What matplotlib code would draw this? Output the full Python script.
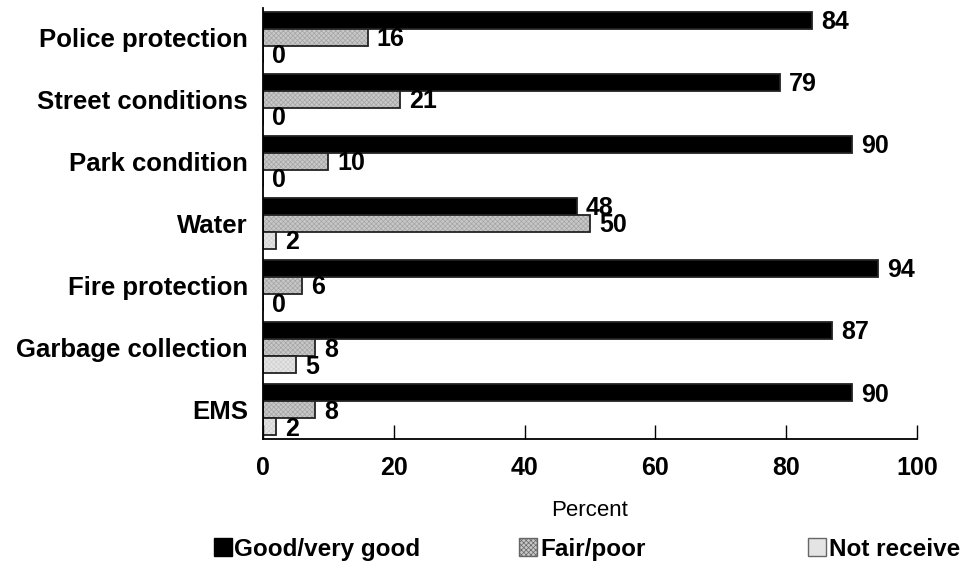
import matplotlib
matplotlib.use("Agg")
import matplotlib.pyplot as plt
import numpy as np
from matplotlib.patches import Patch

plt.rcParams['font.family'] = ['Liberation Sans', 'DejaVu Sans']
plt.rcParams['hatch.linewidth'] = 0.5

categories = ["Police protection", "Street conditions", "Park condition", "Water",
              "Fire protection", "Garbage collection", "EMS"]
good = [84, 79, 90, 48, 94, 87, 90]
fair = [16, 21, 10, 50, 6, 8, 8]
not_receive = [0, 0, 0, 2, 0, 5, 2]
series_names = ["Good/very good", "Fair/poor", "Not receive"]
xticks = [0, 20, 40, 60, 80, 100]

fig = plt.figure(figsize=(9.76, 5.69), dpi=100)
ax = fig.add_axes([0.2695, 0.2285, 0.670, 0.7575])

n = len(categories)
centers = np.arange(n)[::-1].astype(float)  # first category at the top
h = 0.275
offsets = [h, 0.0, -h]

faces = ["black", "#c8c8c8", "#e4e4e4"]
hatches = [None, "xxxxxxx", "xxxxxxx"]
hatch_colors = ["black", "#a4a4a4", "#d0d0d0"]

for vals, off, fc, ht, hc in zip([good, fair, not_receive], offsets, faces, hatches, hatch_colors):
    y = centers + off
    ax.barh(y, vals, height=h, color=fc, hatch=ht, edgecolor=hc, linewidth=0)
    ax.barh(y, vals, height=h, fill=False, edgecolor="#222222", linewidth=1.3)
    for yy, v in zip(y, vals):
        ax.text(v + 1.4, yy - 0.03, f"{v}", va="center", ha="left",
                fontsize=18, fontweight="bold")

ax.set_xlim(0, 100)
ax.set_ylim(-0.5 + 0.03, n - 0.5 - 0.03)
ax.set_yticks(centers)
ax.set_yticklabels(categories, fontsize=18.5, fontweight="bold")
ax.tick_params(axis="y", length=0, pad=11)
ax.set_xticks(xticks)
ax.set_xticklabels([str(t) for t in xticks], fontsize=18, fontweight="bold")
ax.tick_params(axis="x", direction="in", length=10, width=1, pad=12)
ax.spines["top"].set_visible(False)
ax.spines["right"].set_visible(False)
ax.spines["left"].set_linewidth(1.3)
ax.spines["bottom"].set_linewidth(1.3)
ax.set_xlabel("Percent", fontsize=16, labelpad=15)

# legend entries laid out individually along the bottom
handles = [
    Patch(facecolor="black", edgecolor="black"),
    Patch(facecolor="#c8c8c8", edgecolor="#666666", hatch="xxxxxxx"),
    Patch(facecolor="#e4e4e4", edgecolor="#666666"),
]
legend_x = [0.219, 0.532, 0.828]
for hd, name, lx in zip(handles, series_names, legend_x):
    leg = fig.legend([hd], [name], loc="center left", bbox_to_anchor=(lx, 0.035),
                     frameon=False, prop={"size": 17.5, "weight": "bold"},
                     handlelength=0.75, handleheight=0.75, handletextpad=0.1,
                     borderpad=0, borderaxespad=0)

fig.savefig("out.png", dpi=100)
